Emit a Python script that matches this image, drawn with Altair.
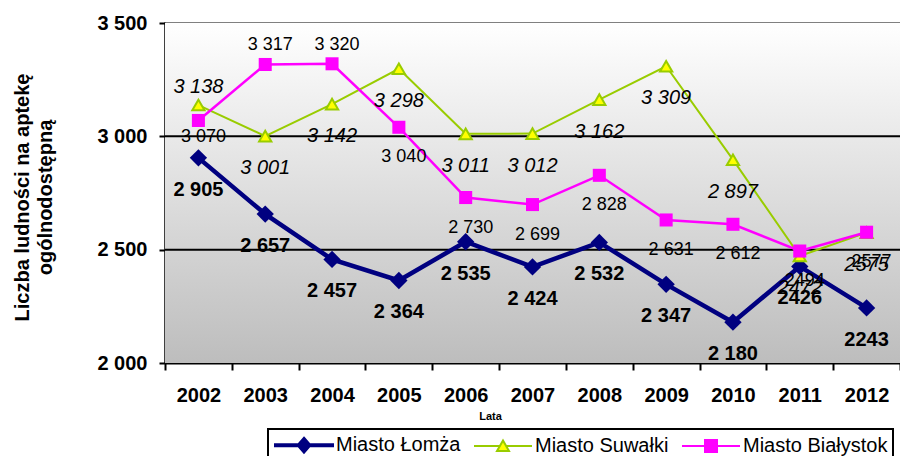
import altair as alt
import pandas as pd

FONT = "Liberation Sans"

YEARS = ["2002", "2003", "2004", "2005", "2006", "2007", "2008", "2009", "2010", "2011", "2012"]
LOMZA = [2905, 2657, 2457, 2364, 2535, 2424, 2532, 2347, 2180, 2426, 2243]
SUWALKI = [3138, 3001, 3142, 3298, 3011, 3012, 3162, 3309, 2897, 2472, 2575]
BIALYSTOK = [3070, 3317, 3320, 3040, 2730, 2699, 2828, 2631, 2612, 2494, 2577]
CITIES = ["Miasto Łomża", "Miasto Suwałki", "Miasto Białystok"]
GRID_VALUES = [2500, 3000]
Y_TICKS = [2000, 2500, 3000, 3500]

LINE_COLORS = ["#000080", "#99CC00", "#FF00FF"]
FILL_COLORS = ["#000080", "#FFFF00", "#FF00FF"]
LEGEND_PATHS = [
    "M-2.9,-0.1H2.9V0.1H-2.9Z M0,-0.75L0.65,0L0,0.75L-0.65,0Z",
    "M-2.9,0H-0.31M0.31,0H2.9M0,-0.55L0.6,0.5L-0.6,0.5Z",
    "M-2.9,0H2.9M-0.6,-0.6H0.6V0.6H-0.6Z",
]


def fmt(year, v):
    return str(v) if int(year) >= 2011 else f"{v:,}".replace(",", " ")


rows = []
for city, vals in zip(CITIES, [LOMZA, SUWALKI, BIALYSTOK]):
    for y, v in zip(YEARS, vals):
        rows.append({"year": y, "city": city, "value": v, "label": fmt(y, v)})
df = pd.DataFrame(rows)

W, H = 735, 340

x_enc = alt.X(
    "year:O",
    scale=alt.Scale(type="band", paddingInner=0, paddingOuter=0),
    axis=alt.Axis(
        title="Lata", labelAngle=0, tickBand="extent", tickSize=7,
        labelFontSize=20, labelFontWeight="bold", labelBaseline="middle",
        labelPadding=25, titleFontSize=11, titleFontWeight="bold",
        titleX=325, titleY=53, titleAlign="center", titleBaseline="middle",
        grid=False,
    ),
)
y_enc = alt.Y(
    "value:Q",
    scale=alt.Scale(domain=[2000, 3500], nice=False, zero=False),
    axis=alt.Axis(
        values=Y_TICKS, grid=False, tickSize=6, labelPadding=12,
        labelFontSize=20, labelFontWeight="bold",
        labelExpr="replace(format(datum.value, ','), ',', ' ')",
        title=["Liczba  ludności na aptekę", "ogólnodostępną"],
        titleFontSize=20, titleFontWeight="bold", titleAngle=270,
        titleX=-143, titleY=174, titleAlign="center", titleBaseline="middle",
        titleLineHeight=23,
    ),
)

base = alt.Chart(df)

background = alt.Chart(alt.Data(values=[{}])).mark_rect(
    fill=alt.LinearGradient(
        gradient="linear",
        stops=[alt.GradientStop(color="#ffffff", offset=0),
               alt.GradientStop(color="#bdbdbd", offset=1)],
        x1=0, x2=0, y1=0, y2=1,
    )
).encode(x=alt.value(0), x2=alt.value(W), y=alt.value(0), y2=alt.value(H))

grid = alt.Chart(pd.DataFrame({"g": GRID_VALUES})).mark_rule(
    color="black", strokeWidth=2
).encode(y=alt.Y("g:Q"))


def series(city, color, width, shape, fill, stroke, size, swidth):
    d = base.transform_filter(alt.datum.city == city)
    line = d.mark_line(color=color, strokeWidth=width).encode(x=x_enc, y=y_enc)
    pts = d.mark_point(shape=shape, filled=True, fill=fill, stroke=stroke,
                       strokeWidth=swidth, size=size, opacity=1).encode(x=x_enc, y=y_enc)
    return line, pts


l1, p1 = series(CITIES[0], "#000080", 4.5, "diamond", "#000080", "#000080", 300, 0)
l2, p2 = series(CITIES[1], "#99CC00", 2, "triangle-up", "#FFFF00", "#99CC00", 150, 2)
l3, p3 = series(CITIES[2], "#FF00FF", 2.5, "square", "#FF00FF", "#FF00FF", 170, 0)


def labels(city, years, dy, dx=0, size=20, weight="normal", style="normal"):
    d = base.transform_filter(alt.datum.city == city).transform_filter(
        alt.FieldOneOfPredicate(field="year", oneOf=years))
    return d.mark_text(font=FONT, fontSize=size, fontWeight=weight, fontStyle=style,
                       dy=dy, dx=dx, color="black", baseline="middle").encode(
        x=x_enc, y=y_enc, text="label:N")


t1 = labels(CITIES[0], YEARS, 32, weight="bold")
t2a = labels(CITIES[1], ["2002"], -18, style="italic")
t2b = labels(CITIES[1], YEARS[1:], 32, style="italic")
t3a = labels(CITIES[2], ["2003", "2004"], -19, dx=5, size=18)
t3b = labels(CITIES[2], ["2002"], 17, dx=5, size=18)
t3c = labels(CITIES[2], YEARS[3:], 30, dx=5, size=18)

leg = alt.Legend(title=None, orient="none", legendX=103, legendY=406, direction="horizontal")
legend_layer = alt.Chart(pd.DataFrame({"city": CITIES})).mark_point(
    filled=True, opacity=0
).encode(
    shape=alt.Shape("city:N", scale=alt.Scale(domain=CITIES, range=LEGEND_PATHS), legend=leg),
    fill=alt.Fill("city:N", scale=alt.Scale(domain=CITIES, range=FILL_COLORS), legend=leg),
    stroke=alt.Stroke("city:N", scale=alt.Scale(domain=CITIES, range=LINE_COLORS), legend=leg),
)

chart = alt.layer(
    background, grid, l1, p1, l2, p2, l3, p3,
    t1, t2a, t2b, t3a, t3b, t3c, legend_layer,
).properties(
    width=W, height=H,
    autosize=alt.AutoSizeParams(type="none"),
    padding={"left": 157, "top": 15, "right": 0, "bottom": 93},
    background="white",
).configure_view(
    stroke="#808080", strokeWidth=2
).configure_axis(
    domainColor="black", domainWidth=2, tickColor="black", tickWidth=2,
    labelFont=FONT, titleFont=FONT, labelColor="black", titleColor="black",
).configure_legend(
    padding=5, symbolOffset=20, symbolSize=400, symbolStrokeWidth=2, symbolOpacity=1,
    labelFont=FONT, labelFontSize=20, labelColor="black", labelOffset=21,
    columnPadding=9, fillColor="white", strokeColor="black", strokeWidth=2,
)

chart.save("out.html", embed_options={"renderer": "svg", "actions": False})
